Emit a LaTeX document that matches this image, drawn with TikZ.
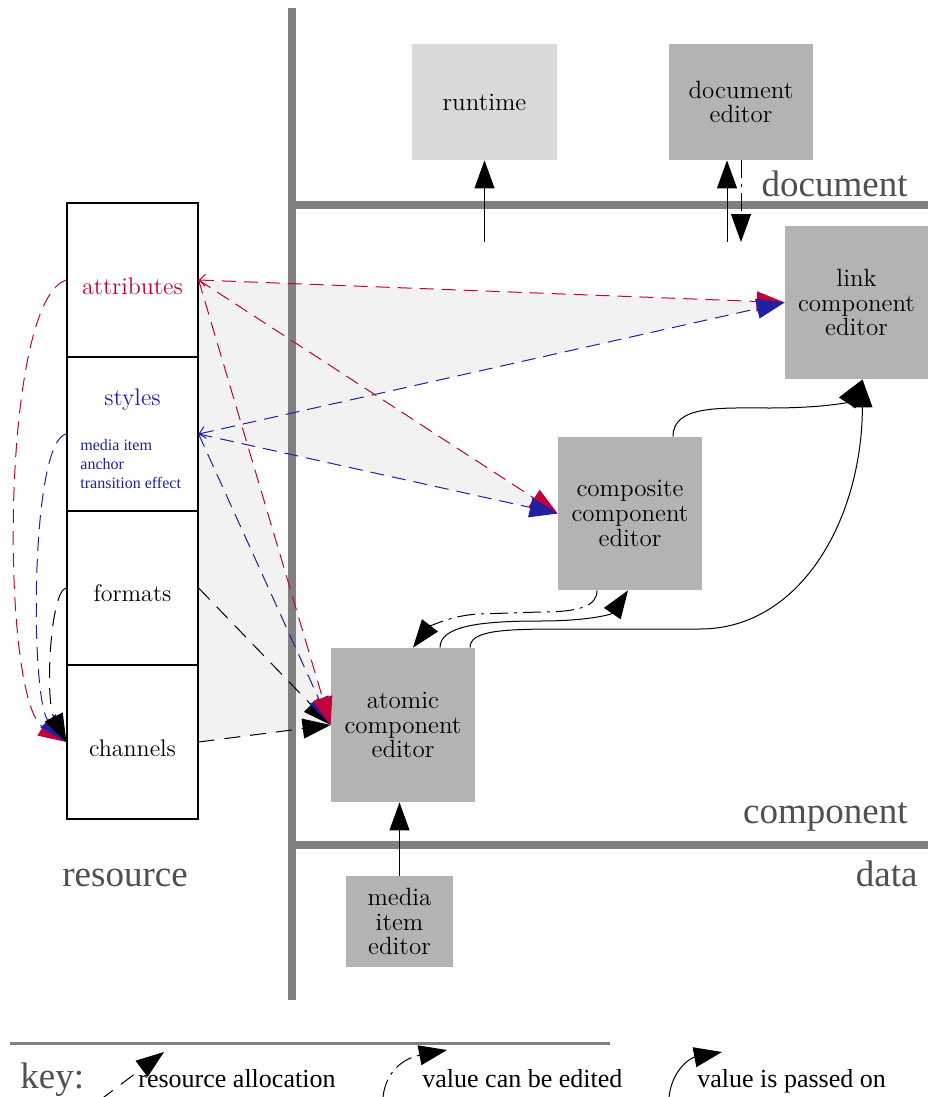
\documentclass[tikz,border=0pt]{standalone}
\usepackage{fontspec}
\newfontfamily\labelfont{Liberation Serif}
\usetikzlibrary{arrows.meta}
\definecolor{myred}{HTML}{C4003C}
\definecolor{myblue}{HTML}{2020A0}
\definecolor{fanfill}{HTML}{F2F2F2}
\definecolor{boxgray}{HTML}{B3B3B3}
\definecolor{lightbox}{HTML}{D9D9D9}
\definecolor{bargray}{HTML}{808080}
\definecolor{labelgray}{HTML}{505050}
\pgfdeclarelayer{background}
\pgfsetlayers{background,main}
\tikzset{
  editor/.style={rectangle, draw=none, fill=boxgray, inner sep=0pt, align=center,
    font=\fontsize{12.5}{12.3}\selectfont},
  cell/.style={rectangle, draw=black, line width=0.6pt, minimum width=65.5pt,
    minimum height=77pt, inner sep=0pt},
  celltext/.style={inner sep=0pt, font=\fontsize{12}{13}\selectfont},
  biglabel/.style={inner sep=0pt, text=labelgray, font=\labelfont\fontsize{18.5}{20}\selectfont},
  keytext/.style={inner sep=0pt, text=black, font=\labelfont\fontsize{13}{14}\selectfont},
  bar/.style={draw=bargray, line width=4pt},
  head/.style={-{Triangle[length=14pt,width=10pt]}},
  barbhead/.style={{Straight Barb[length=3pt,width=6pt]}-{Triangle[length=14pt,width=10pt]}},
  rdash/.style={draw=myred, line width=0.5pt, dash pattern=on 7pt off 4pt},
  bdash/.style={draw=myblue, line width=0.5pt, dash pattern=on 7pt off 4pt},
  kdash/.style={draw=black, line width=0.5pt, dash pattern=on 8pt off 5pt},
  dashdot/.style={draw=black, line width=0.5pt, dash pattern=on 9pt off 3pt on 1.5pt off 3pt},
  passon/.style={draw=black, line width=0.5pt},
}
\begin{document}
\begin{tikzpicture}[x=0.5pt,y=-0.5pt]
\useasboundingbox (0,0) rectangle (928,1097);

% editors
\node[editor, fill=lightbox, minimum width=72.5pt, minimum height=58pt] (runtime) at (484.5,102) {runtime};
\node[editor, minimum width=72pt, minimum height=58pt] (docedit) at (741,102) {document\\editor};
\node[editor, minimum width=71.5pt, minimum height=76.5pt] (link) at (856.5,302.5) {link\\component\\editor};
\node[editor, minimum width=72pt, minimum height=76.5pt] (comp) at (630,513.5) {composite\\component\\editor};
\node[editor, minimum width=72pt, minimum height=77pt] (atomic) at (403,725) {atomic\\component\\editor};
\node[editor, minimum width=53.5pt, minimum height=45.5pt] (media) at (399.5,921.5) {media\\item\\editor};

% resource cells
\node[cell] (attrcell) at (132.5,280) {};
\node[cell] (stylescell) at (132.5,434) {};
\node[cell] (formcell) at (132.5,588) {};
\node[cell] (chancell) at (132.5,742) {};
\node[celltext, text=myred] (attrtext) at (132.5,286) {attributes};
\node[celltext, text=myblue] (stylestext) at (132.5,400) {styles};
\node[inner sep=0pt, anchor=north west, align=left, text=myblue,
  font=\labelfont\fontsize{8}{9.5}\selectfont] (stylesub) at (80,439) {media item\\anchor\\transition effect};
\node[celltext] (formtext) at (132.5,593) {formats};
\node[celltext] (chantext) at (132.5,748) {channels};

% labels
\node[biglabel, anchor=base east] (doclabel) at (908,196) {document};
\node[biglabel, anchor=base east] (complabel) at (908,823) {component};
\node[biglabel, anchor=base east] (datalabel) at (918,886) {data};
\node[biglabel, anchor=base west] (reslabel) at (62,886) {resource};
\node[biglabel, anchor=base west] (keylabel) at (20,1088) {key:};
\node[keytext, anchor=base west] (k1text) at (138,1087) {resource allocation};
\node[keytext, anchor=base west] (k2text) at (422,1087) {value can be edited};
\node[keytext, anchor=base west] (k3text) at (697,1087) {value is passed on};

% background fans and bars
\begin{pgfonlayer}{background}
\fill[fanfill] (attrcell.east) -- (link.west) -- (stylescell.east) -- cycle;
\fill[fanfill] (attrcell.east) -- (comp.west) -- (stylescell.east) -- cycle;
\fill[fanfill] (attrcell.east) -- (atomic.west) -- (chancell.east) -- cycle;
\coordinate (vtop) at (292,8);
\coordinate (vbot) at (292,1000);
\coordinate (hdocR) at (928,205);
\coordinate (hcompR) at (928,845);
\draw[bar] (vtop) -- (vbot);
\draw[bar] (hdocR) -- (hdocR -| vtop);
\draw[bar] (hcompR) -- (hcompR -| vtop);
\coordinate (keyL) at (10,1043);
\coordinate (keyR) at (610,1043);
\draw[draw=bargray, line width=1.5pt] (keyL) -- (keyR);
\end{pgfonlayer}

% document level arrows
\coordinate (rtbase) at (484.5,242);
\draw[passon, head] (rtbase) -- (runtime.south);
\coordinate (de1) at (727,242);
\coordinate (de2) at (741,242);
\draw[passon, head] (de1) -- (de1 |- docedit.south);
\draw[dashdot, head] (de2 |- docedit.south) -- (de2);

% resource allocation straight lines
\draw[rdash, barbhead] (attrcell.east) -- (link.west);
\draw[bdash, barbhead] (stylescell.east) -- (link.west);
\draw[rdash, head] (attrcell.east) -- (comp.west);
\draw[bdash, head] (stylescell.east) -- (comp.west);
\draw[kdash, head] (formcell.east) -- (atomic.west);
\draw[kdash, head] (chancell.east) -- (atomic.west);
\draw[bdash, head] (stylescell.east) -- (atomic.west);
\draw[rdash, head] (attrcell.east) -- (atomic.west);

% left curves to channels
\draw[rdash, head] (attrcell.west) .. controls (0,300) and (0,700) .. (chancell.west);
\draw[bdash, head] (stylescell.west) .. controls (30,440) and (30,700) .. (chancell.west);
\draw[kdash, head] (formcell.west) .. controls (50,590) and (45,700) .. (chancell.west);

% component level curves
\draw[passon, head] ([xshift=21.5pt]comp.north) .. controls (673,405) and (720,408) .. (770,408)
  .. controls (825,408) and (848,402) .. ([xshift=3pt]link.south);
\draw[passon, head] ([xshift=33.5pt]atomic.north) .. controls (470,631) and (500,629) .. (560,629)
  -- (700,629) .. controls (800,629) and (862,520) .. ([xshift=3pt]link.south);
\draw[passon, head] ([xshift=18.5pt]atomic.north) .. controls (440,626) and (480,621) .. (540,621)
  .. controls (590,621) and (612,614) .. ([xshift=-1pt]comp.south);
\draw[dashdot, head] ([xshift=-16.5pt]comp.south) .. controls (597,606) and (580,612) .. (540,612)
  -- (480,614) .. controls (450,615) and (428,628) .. ([xshift=5pt]atomic.north);

% media
\draw[passon, head] (media.north) -- (media.north |- atomic.south);

% key arrows
\coordinate (k1s) at (100,1100);
\coordinate (k1e) at (164,1052);
\draw[kdash, head] (k1s) -- (k1e);
\coordinate (k2s) at (383,1097);
\coordinate (k2e) at (447,1050);
\draw[dashdot, head] (k2s) .. controls (386,1070) and (405,1058) .. (k2e);
\coordinate (k3s) at (669,1097);
\coordinate (k3e) at (722,1052);
\draw[passon, head] (k3s) .. controls (672,1070) and (690,1058) .. (k3e);
\end{tikzpicture}
\end{document}
